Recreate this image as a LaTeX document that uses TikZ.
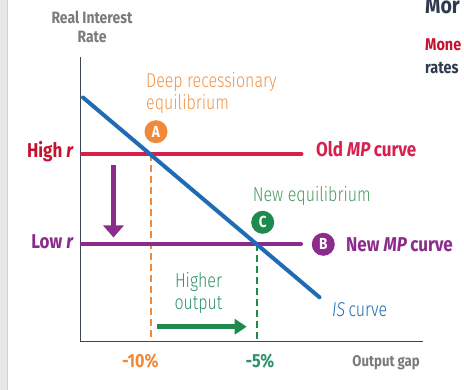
\documentclass[tikz,border=0pt]{standalone}
\usepackage{fontspec}
\setmainfont{Fira Sans}[FakeStretch=0.85]
\newfontfamily\lightf{Fira Sans Light}[FakeStretch=0.8]
\usetikzlibrary{arrows.meta}
\definecolor{cred}{HTML}{D6204E}
\definecolor{credtxt}{HTML}{C4122F}
\definecolor{cpurple}{HTML}{8B2C8C}
\definecolor{cblue}{HTML}{1F6CB4}
\definecolor{corange}{HTML}{F08A3A}
\definecolor{corangetxt}{HTML}{F29448}
\definecolor{cgreen}{HTML}{1E8A4E}
\definecolor{cgreentxt}{HTML}{4A9A5E}
\definecolor{cteal}{HTML}{2E9468}
\definecolor{cgrey}{HTML}{7A7A7A}
\definecolor{caxis}{HTML}{3D4657}
\definecolor{cnavy}{HTML}{2E3B4E}
\definecolor{cstrip}{HTML}{E8E8EA}
\definecolor{cstripedge}{HTML}{D0D0D4}
\tikzset{
  lbl/.style={font=\lightf\fontsize{20}{22.5}\selectfont, inner sep=0pt},
  blbl/.style={font=\bfseries\fontsize{20}{20}\selectfont, inner sep=0pt},
  dot/.style={circle, fill=#1, minimum size=23pt, inner sep=0pt, text=white, font=\bfseries\fontsize{16}{16}\selectfont},
  thick line/.style={line width=4pt, line cap=round},
  dash line/.style={line width=2pt, dash pattern=on 7pt off 4pt},
}
\begin{document}
\begin{tikzpicture}[x=1pt,y=-1pt]
\useasboundingbox (0,0) rectangle (464,390);
\fill[white] (0,0) rectangle (464,390);
\fill[cstrip] (0,0) rectangle (7,390);
\draw[cstripedge, line width=1pt] (7.5,0) -- (7.5,390);
% top-right cut text
\node[anchor=base west, inner sep=0pt, text=cnavy, font=\bfseries\fontsize{23}{23}\selectfont] (t1) at (425,13.5) {Mor};
\node[anchor=base west, inner sep=0pt, text=credtxt, font=\bfseries\fontsize{17}{17}\selectfont] (t2) at (425,50.5) {Mone};
\node[anchor=base west, inner sep=0pt, text=cnavy, font=\bfseries\fontsize{17}{17}\selectfont] (t3) at (425,73.5) {rates};
% axes
\coordinate (O) at (80.5,341.5);
\coordinate (Ytop) at (80.5,57);
\coordinate (Xend) at (423,341.5);
\draw[caxis, line width=1.6pt] (Ytop) -- (O) -- (Xend);
\node[anchor=base, align=center, text=cgrey, font=\bfseries\fontsize{16.4}{18.7}\selectfont, inner sep=0pt] (ylab) at (92,42.7) {Real Interest\\Rate};
\node[anchor=base east, text=cgrey, font=\bfseries\fontsize{15.5}{15.5}\selectfont, inner sep=0pt] (xlab) at (420,367) {Output gap};
% dashed verticals
\coordinate (Ad) at (150.5,154);
\coordinate (Ab) at (150.5,341);
\coordinate (Cd) at (257.3,244);
\coordinate (Cb) at (257.3,341);
\draw[corange, dash line] (Ad) -- (Ab);
\draw[cgreen, dash line] (Cd) -- (Cb);
% MP lines
\coordinate (H1) at (82,154);
\coordinate (H2) at (301.5,154);
\coordinate (L1) at (82,244);
\coordinate (L2) at (301,244);
\draw[cred, thick line] (H1) -- (H2);
\draw[cpurple, thick line] (L1) -- (L2);
% IS curve
\coordinate (IS1) at (83,97.5);
\coordinate (IS2) at (319.5,297.3);
\draw[cblue, thick line] (IS1) -- (IS2);
% arrows
\coordinate (pa1) at (113.5,165);
\coordinate (pa2) at (113.5,237.5);
\draw[cpurple, line width=5pt, -{Triangle[length=12pt,width=20pt]}] (pa1) -- (pa2);
\coordinate (ga1) at (157.3,326.7);
\coordinate (ga2) at (246.7,326.7);
\draw[cgreen, line width=4.7pt, -{Triangle[length=12pt,width=15pt]}] (ga1) -- (ga2);
% labels
\node[anchor=base east, text=credtxt, blbl] (high) at (74,158) {High \textit{r}};
\node[anchor=base east, text=cpurple, blbl] (low) at (74,248.3) {Low \textit{r}};
\node[anchor=base west, text=cred, blbl] (old) at (316,156.7) {Old \textit{MP}\,curve};
\node[anchor=base west, text=cpurple, blbl] (new) at (346,251.5) {New \textit{MP}\,curve};
\node[anchor=base west, text=cblue, lbl] (isl) at (332,317) {\textit{IS}\,curve};
\node[anchor=base west, text=corangetxt, lbl, align=left] (deep) at (146,110) {Deep recessionary\\equilibrium};
\node[anchor=base west, text=cgreentxt, lbl] (neweq) at (252.7,201.7) {New equilibrium};
\node[anchor=base, text=cteal, lbl, align=center] (hout) at (198.5,310) {Higher\\output};
\node[anchor=base, text=corange, font=\bfseries\fontsize{19}{19}\selectfont, inner sep=0pt] (m10) at (140.3,367.3) {-10\%};
\node[anchor=base, text=cteal, font=\bfseries\fontsize{19}{19}\selectfont, inner sep=0pt] (m5) at (260,367.3) {-5\%};
% dots
\node[dot=corange] (A) at (156,131.7) {A};
\node[dot=cgreen] (C) at (262.7,222.3) {C};
\node[dot=cpurple] (B) at (323.3,244.3) {B};
\end{tikzpicture}
\end{document}
